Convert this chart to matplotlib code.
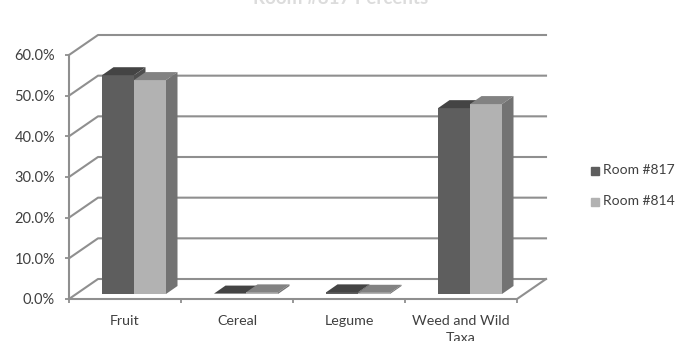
import matplotlib
matplotlib.use("Agg")
import matplotlib.pyplot as plt

plt.rcParams["font.family"] = ["Lato", "DejaVu Sans"]

categories = ["Fruit", "Cereal", "Legume", "Weed and Wild\nTaxa"]
room_817 = [53.8, 0.1, 0.4, 45.7]
room_814 = [52.6, 0.4, 0.3, 46.7]
y_ticks = [0, 10, 20, 30, 40, 50, 60]
y_labels = ["0.0%", "10.0%", "20.0%", "30.0%", "40.0%", "50.0%", "60.0%"]
title = "Room #817 Percents"

W, H = 686, 341
GRID = "#8f8f8f"
TXT = "#404040"

fig = plt.figure(figsize=(W / 100, H / 100), dpi=100)
# plot front plane in pixels: x 69-517, y 299 (0%) to 55 (60%)
ax = fig.add_axes([69 / W, 1 - 299 / H, 448 / W, 244 / H])
ax.set_xlim(0, 4)
ax.set_ylim(0, 60)
ax.patch.set_visible(False)
for s in ax.spines.values():
    s.set_visible(False)

# depth of the 3d box, in data units
dx = 29 / 112.0
dy = 20 / 4.067

# back wall gridlines and left wall slants
for t in y_ticks:
    ax.plot([0, dx, 4 + dx], [t, t + dy, t + dy], color=GRID, lw=1.5, clip_on=False, zorder=1)
ax.plot([0, 0], [0, 60], color=GRID, lw=1.5, clip_on=False, zorder=1)
ax.plot([0, 4, 4 + dx], [0, 0, dy], color=GRID, lw=1.5, clip_on=False, zorder=1)

ax.set_xticks([0, 1, 2, 3, 4])
ax.set_xticklabels([])
ax.set_yticks(y_ticks)
ax.set_yticklabels(y_labels, color=TXT, fontsize=10.5)
ax.tick_params(axis="y", length=3, width=1.3, color=GRID, pad=7, direction="out")
ax.tick_params(axis="x", length=3, width=1.3, color=GRID, direction="out")
for i, c in enumerate(categories):
    ax.text(i + 0.5, -4.0, c, ha="center", va="top", color=TXT, fontsize=10.3, linespacing=1.45, clip_on=False)


def bar3d(x0, w, v, front, top, side):
    # bar sits a little behind the front edge of the floor
    by = 5 / 4.067
    ox, oy = 11.5 / 112.0, 8 / 4.067
    x1 = x0 + w
    b, t = by, by + v
    ax.fill([x0, x1, x1, x0], [b, b, t, t], color=front, lw=0, zorder=3, clip_on=False)
    ax.fill([x0, x1, x1 + ox, x0 + ox], [t, t, t + oy, t + oy], color=top, lw=0, zorder=3, clip_on=False)
    ax.fill([x1, x1 + ox, x1 + ox, x1], [b, b + oy, t + oy, t], color=side, lw=0, zorder=3, clip_on=False)


bar_w = 32 / 112.0
start = 33 / 112.0
for i in range(len(categories)):
    x = i + start
    bar3d(x, bar_w, room_817[i], "#5e5e5e", "#444444", "#4e4e4e")
    bar3d(x + bar_w, bar_w, room_814[i], "#b2b2b2", "#828282", "#737373")

# legend, drawn by hand because of the small squares in the source
fig.text(603 / W, 1 - 170 / H, "Room #817", color=TXT, fontsize=10, va="center")
fig.text(603 / W, 1 - 201 / H, "Room #814", color=TXT, fontsize=10, va="center")
fig.patches.append(plt.Rectangle((591 / W, 1 - 175 / H), 8 / W, 8 / H, color="#5e5e5e", transform=fig.transFigure))
fig.patches.append(plt.Rectangle((591 / W, 1 - 206 / H), 8 / W, 8 / H, color="#b2b2b2", transform=fig.transFigure))

# title runs off the top edge and is nearly faded out in the source
fig.text(341 / W, 1 + 1 / H, title, color="#dcdcdc", fontsize=13.5, fontweight="bold", ha="center", va="center")

fig.savefig("out.png", dpi=100)
